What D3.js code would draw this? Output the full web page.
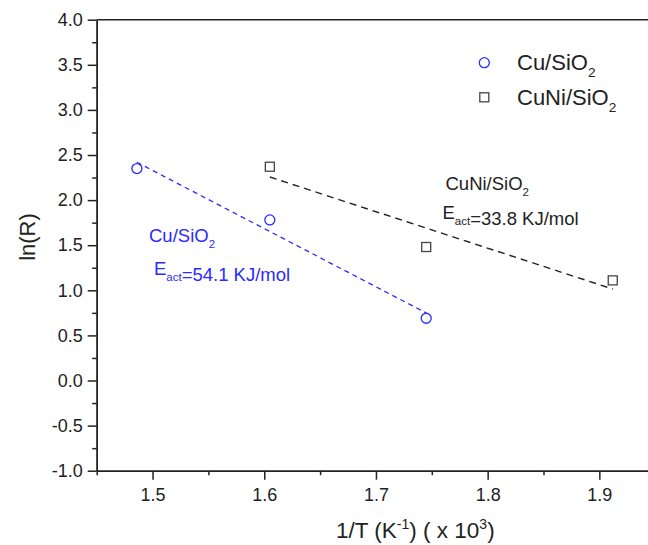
<!DOCTYPE html>
<html>
<head>
<meta charset="utf-8">
<script src="https://cdn.jsdelivr.net/npm/d3@7"></script>
<style>
    body { margin: 0; background: #fff; }
    svg { display: block; font-family: "Liberation Sans", Arial, sans-serif; }
    .axis path, .axis line { stroke: #222; stroke-width: 1.5px; }
    .axis text { fill: #222; font-size: 18px; font-family: "Liberation Sans", Arial, sans-serif; }
</style>
</head>
<body>
<div id="graph"></div>
<script>
// values
var cuX = [1.486, 1.605, 1.745];
var cuY = [2.35, 1.78, 0.69];
var cuniX = [1.605, 1.745, 1.912];
var cuniY = [2.37, 1.48, 1.11];
var xTicks = [1.5, 1.6, 1.7, 1.8, 1.9];
var yTicks = [-1.0, -0.5, 0.0, 0.5, 1.0, 1.5, 2.0, 2.5, 3.0, 3.5, 4.0];

var width = 648,
    height = 545,
    plotLeft = 96.7,
    plotTop = 19.7,
    plotBottom = 470.7;

var blue = '#2b2bff',
    dark = '#222';

var svg = d3.select('#graph')
    .append('svg')
    .attr('width', width)
    .attr('height', height);

var x = d3.scaleLinear()
    .domain([1.45, 1.45 + (width - plotLeft) / 1117])
    .range([plotLeft, width]);

var y = d3.scaleLinear()
    .domain([-1, 4])
    .range([plotBottom, plotTop]);

// plain hyphen for negatives, like the original
var fmt = function(d) { return d.toFixed(1); };

// minor ticks first, majors on top
svg.append('g')
    .attr('class', 'axis')
    .attr('transform', 'translate(0,' + plotBottom + ')')
    .call(d3.axisBottom(x).tickValues(d3.range(1.45, 1.96, 0.1)).tickSize(4.5).tickFormat('').tickSizeOuter(0));

svg.append('g')
    .attr('class', 'axis')
    .attr('transform', 'translate(0,' + plotBottom + ')')
    .call(d3.axisBottom(x).tickValues(xTicks).tickSize(9).tickPadding(5).tickSizeOuter(0).tickFormat(fmt))
    .selectAll('text')
    .attr('dy', '0.9em');

svg.append('g')
    .attr('class', 'axis')
    .attr('transform', 'translate(' + plotLeft + ',0)')
    .call(d3.axisLeft(y).tickValues(d3.range(-0.75, 4, 0.5)).tickSize(4.5).tickFormat('').tickSizeOuter(0));

svg.append('g')
    .attr('class', 'axis')
    .attr('transform', 'translate(' + plotLeft + ',0)')
    .call(d3.axisLeft(y).tickValues(yTicks).tickSize(9).tickPadding(5).tickSizeOuter(0).tickFormat(fmt));

// top frame line
svg.append('line')
    .attr('x1', plotLeft).attr('x2', width)
    .attr('y1', plotTop).attr('y2', plotTop)
    .attr('stroke', dark)
    .attr('stroke-width', 1.5);

// axis titles
svg.append('text')
    .attr('transform', 'translate(35,237) rotate(-90)')
    .attr('text-anchor', 'middle')
    .attr('font-size', 22)
    .attr('fill', dark)
    .text('ln(R)');

var xt = svg.append('text')
    .attr('x', 336)
    .attr('y', 538)
    .attr('font-size', 22.5)
    .attr('fill', dark);
xt.append('tspan').text('1/T (K');
xt.append('tspan').attr('font-size', 14).attr('dy', -9).text('-1');
xt.append('tspan').attr('dy', 9).text(')  ( x 10');
xt.append('tspan').attr('font-size', 14).attr('dy', -9).text('3');
xt.append('tspan').attr('dy', 9).text(')');

// least squares line through a series
function fit(xs, ys) {
    var mx = d3.mean(xs), my = d3.mean(ys);
    var sxy = d3.sum(xs, function(d, i) { return (d - mx) * (ys[i] - my); });
    var sxx = d3.sum(xs, function(d) { return (d - mx) * (d - mx); });
    var k = sxy / sxx;
    var x0 = d3.min(xs), x1 = d3.max(xs);
    return [[x0, my + k * (x0 - mx)], [x1, my + k * (x1 - mx)]];
}

var line = d3.line()
    .x(function(d) { return x(d[0]); })
    .y(function(d) { return y(d[1]); });

svg.append('path')
    .attr('d', line(fit(cuX, cuY)))
    .attr('fill', 'none')
    .attr('stroke', blue)
    .attr('stroke-width', 1.3)
    .attr('stroke-dasharray', '5,4');

svg.append('path')
    .attr('d', line(fit(cuniX, cuniY)))
    .attr('fill', 'none')
    .attr('stroke', dark)
    .attr('stroke-width', 1.4)
    .attr('stroke-dasharray', '7,5');

// points
svg.selectAll('.cu')
    .data(cuX)
    .enter()
    .append('circle')
    .attr('class', 'cu')
    .attr('cx', function(d) { return x(d); })
    .attr('cy', function(d, i) { return y(cuY[i]); })
    .attr('r', 5)
    .attr('fill', 'none')
    .attr('stroke', blue)
    .attr('stroke-width', 1.3);

svg.selectAll('.cuni')
    .data(cuniX)
    .enter()
    .append('rect')
    .attr('class', 'cuni')
    .attr('x', function(d) { return x(d) - 4.5; })
    .attr('y', function(d, i) { return y(cuniY[i]) - 4.5; })
    .attr('width', 9)
    .attr('height', 9)
    .attr('fill', 'none')
    .attr('stroke', '#444')
    .attr('stroke-width', 1.3);

// text with a subscript part
function label(px, py, size, color, parts) {
    var t = svg.append('text')
        .attr('x', px)
        .attr('y', py)
        .attr('font-size', size)
        .attr('fill', color);
    parts.forEach(function(p) {
        if (p.sub) {
            t.append('tspan').attr('font-size', size * 0.62).attr('dy', size * 0.3).text(p.sub);
            t.append('tspan').attr('dy', -size * 0.3).text('');
        } else {
            t.append('tspan').text(p.t);
        }
    });
    return t;
}

// legend
svg.append('circle')
    .attr('cx', 484.3).attr('cy', 62.7).attr('r', 5)
    .attr('fill', 'none').attr('stroke', blue).attr('stroke-width', 1.3);
svg.append('rect')
    .attr('x', 479.8).attr('y', 92.8).attr('width', 9).attr('height', 9)
    .attr('fill', 'none').attr('stroke', '#444').attr('stroke-width', 1.3);
label(517, 70, 22, dark, [{t: 'Cu/SiO'}, {sub: '2'}]);
label(517, 105, 22, dark, [{t: 'CuNi/SiO'}, {sub: '2'}]);

// annotations
label(149, 242, 18.5, blue, [{t: 'Cu/SiO'}, {sub: '2'}]);
label(154, 275, 18.5, blue, [{t: 'E'}, {sub: 'act'}, {t: '=54.1 KJ/mol'}]);
label(445.5, 190, 18.5, dark, [{t: 'CuNi/SiO'}, {sub: '2'}]);
label(442.5, 219, 18.5, dark, [{t: 'E'}, {sub: 'act'}, {t: '=33.8 KJ/mol'}]);
</script>
</body>
</html>
